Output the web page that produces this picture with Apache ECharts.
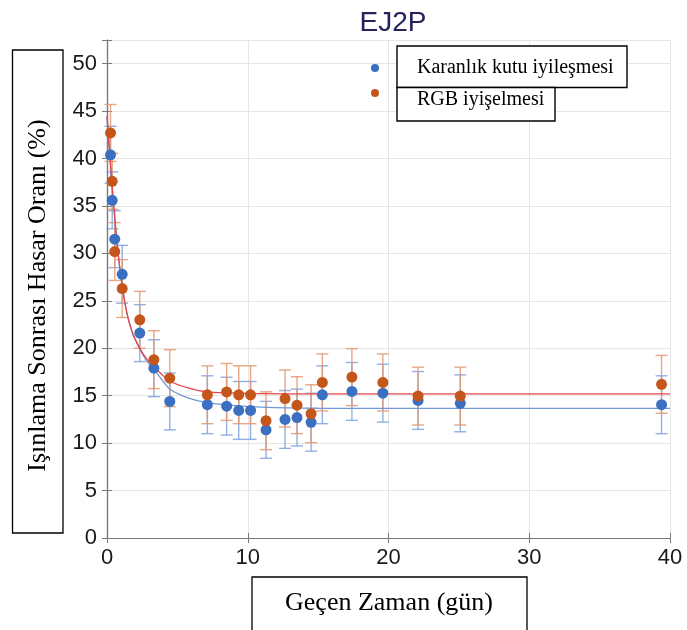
<!DOCTYPE html>
<html>
<head>
	<meta charset="utf-8" />
	<title>EJ2P</title>
	<script src="https://cdn.jsdelivr.net/npm/echarts@6/dist/echarts.min.js"></script>
	<style>
		html, body { margin: 0; padding: 0; background: #fff; }
		#chartmain { width: 687px; height: 630px; }
	</style>
</head>
<body>
	<div id="chartmain"></div>
</body>
<script type="text/javascript">
	// gün
	var days = [0.25, 0.37, 0.55, 1.08, 2.33, 3.33, 4.46, 7.13, 8.5, 9.36, 10.2, 11.3, 12.65, 13.5, 14.5, 15.3, 17.4, 19.6, 22.1, 25.1, 39.4];
	// Karanlık kutu
	var darkVal = [40.4, 35.6, 31.5, 27.8, 21.6, 17.9, 14.4, 14.05, 13.9, 13.45, 13.45, 11.4, 12.5, 12.7, 12.2, 15.1, 15.45, 15.27, 14.5, 14.2, 14.05];
	var darkErr = [3.0, 3.0, 3.0, 3.05, 3.0, 3.0, 3.0, 3.05, 3.05, 3.05, 3.05, 3.0, 3.05, 3.0, 3.05, 3.05, 3.05, 3.05, 3.05, 3.0, 3.05];
	// RGB
	var rgbVal = [42.7, 37.6, 30.2, 26.3, 23.0, 18.8, 16.85, 15.1, 15.4, 15.1, 15.1, 12.36, 14.7, 14.0, 13.1, 16.4, 16.96, 16.4, 14.96, 14.96, 16.2];
	var rgbErr = [3.0, 2.95, 3.05, 3.05, 3.0, 3.05, 3.0, 3.05, 3.0, 3.05, 3.05, 3.05, 3.0, 3.0, 3.05, 3.0, 3.0, 3.0, 3.05, 3.05, 3.05];

	// fit curves
	var fitRgbX = [0, 0.15, 0.3, 0.5, 0.75, 1.0, 1.4, 1.8, 2.3, 2.8, 3.3, 4.0, 4.5, 5.7, 7.1, 8.7, 11, 15, 40];
	var fitRgbY = [44.5, 41.4, 38.4, 34.6, 30.6, 27.4, 23.8, 21.7, 20.1, 18.9, 18.1, 17.1, 16.5, 15.85, 15.4, 15.3, 15.22, 15.2, 15.2];
	var fitDarkX = [0, 0.15, 0.3, 0.5, 0.75, 1.0, 1.4, 1.8, 2.3, 2.8, 3.3, 4.0, 4.5, 5.7, 7.1, 8.7, 11, 15, 20, 40];
	var fitDarkY = [44.5, 41.4, 38.4, 34.6, 30.6, 27.4, 23.8, 21.6, 20.0, 18.7, 17.85, 16.5, 15.65, 14.8, 14.26, 14.0, 13.8, 13.68, 13.66, 13.66];

	var xTicks = [0, 10, 20, 30, 40];
	var yTicks = [0, 5, 10, 15, 20, 25, 30, 35, 40, 45, 50];

	var nameDark = 'Karanlık kutu iyileşmesi';
	var nameRgb = 'RGB iyişelmesi';

	var cBlue = '#3b6fc2', cOrange = '#c4561c';

	function pairs(xs, ys) {
		return xs.map(function (x, i) { return [x, ys[i]]; });
	}
	function errData(xs, ys, es) {
		return xs.map(function (x, i) { return [x, ys[i] - es[i], ys[i] + es[i]]; });
	}
	function errRender(color) {
		return function (params, api) {
			var x = api.value(0);
			var top = api.coord([x, api.value(2)]);
			var bot = api.coord([x, api.value(1)]);
			var w = 6;
			var st = { stroke: color, lineWidth: 1.4, opacity: 0.85 };
			return {
				type: 'group',
				children: [
					{ type: 'line', shape: { x1: top[0], y1: top[1], x2: bot[0], y2: bot[1] }, style: st },
					{ type: 'line', shape: { x1: top[0] - w, y1: top[1], x2: top[0] + w, y2: top[1] }, style: st },
					{ type: 'line', shape: { x1: bot[0] - w, y1: bot[1], x2: bot[0] + w, y2: bot[1] }, style: st }
				]
			};
		};
	}
	// legend only gives the dots, texts sit in the boxes below
	function dotLegend(name, top) {
		return {
			data: [name], left: 371, top: top, padding: 0, z: 8,
			selectedMode: false, itemWidth: 8, itemHeight: 8, icon: 'circle',
			formatter: function () { return ''; },
			textStyle: { fontSize: 6, lineHeight: 6 }
		};
	}

	var myChart = echarts.init(document.getElementById('chartmain'));

	var axisCol = '#7a7a7a';
	var labelFont = { fontFamily: 'Liberation Sans', fontSize: 22, color: '#1a1a1a' };
	var serif = '20px "Liberation Serif"';

	var option = {
		backgroundColor: '#fff',
		animation: false,
		title: {
			text: 'EJ2P',
			left: 388,
			textAlign: 'center',
			top: 4,
			textStyle: { fontFamily: 'Liberation Sans', fontSize: 28, fontWeight: 'normal', color: '#25215a' }
		},
		grid: { left: 107, right: 17, top: 40, bottom: 92 },
		legend: [dotLegend(nameDark, 64), dotLegend(nameRgb, 89)],
		xAxis: [{
			type: 'value', min: xTicks[0], max: xTicks[xTicks.length - 1], interval: 10,
			axisLine: { lineStyle: { color: axisCol, width: 1.2 } },
			axisTick: { inside: true, length: 5, lineStyle: { color: axisCol } },
			axisLabel: Object.assign({ margin: 9 }, labelFont),
			splitLine: { lineStyle: { color: '#e6e6e6', width: 1 } }
		}, {
			type: 'value', position: 'top', min: 0, max: 40, interval: 10,
			axisLine: { lineStyle: { color: axisCol, width: 1.2 } },
			axisTick: { inside: true, length: 5, lineStyle: { color: axisCol } },
			axisLabel: { show: false }, splitLine: { show: false }
		}],
		yAxis: [{
			type: 'value', min: yTicks[0], max: 52.5, interval: 5,
			axisLine: { show: true, lineStyle: { color: axisCol, width: 1.2 } },
			axisTick: { show: true, inside: true, length: 5, lineStyle: { color: axisCol } },
			axisLabel: Object.assign({
				margin: 10,
				formatter: function (v) { return yTicks.indexOf(v) >= 0 ? String(v) : ''; }
			}, labelFont),
			splitLine: { lineStyle: { color: '#e6e6e6', width: 1 } }
		}, {
			type: 'value', position: 'right', min: 0, max: 52.5, interval: 5,
			axisLine: { show: true, lineStyle: { color: axisCol, width: 1.2 } },
			axisTick: { show: true, inside: true, length: 5, lineStyle: { color: axisCol } },
			axisLabel: { show: false }, splitLine: { show: false }
		}],
		graphic: [
			// y axis name box
			{ type: 'rect', z: 3, shape: { x: 12.5, y: 50, width: 50.5, height: 483 },
				style: { fill: '#fff', stroke: '#000', lineWidth: 1.3 } },
			{ type: 'text', z: 4, x: 38, y: 295.5, rotation: Math.PI / 2,
				style: { text: 'Işınlama Sonrası Hasar Oranı (%)', font: '26px "Liberation Serif"', fill: '#000', textAlign: 'center', textVerticalAlign: 'middle' } },
			// x axis name box
			{ type: 'rect', z: 3, shape: { x: 252, y: 577, width: 275, height: 70 },
				style: { fill: '#fff', stroke: '#000', lineWidth: 1.3 } },
			{ type: 'text', z: 4, x: 389, y: 603.5,
				style: { text: 'Geçen Zaman (gün)', font: '26px "Liberation Serif"', fill: '#000', textAlign: 'center', textVerticalAlign: 'middle' } },
			// legend boxes and texts
			{ type: 'rect', z: 3, shape: { x: 397, y: 46, width: 230, height: 41.5 },
				style: { fill: '#fff', stroke: '#000', lineWidth: 1.4 } },
			{ type: 'rect', z: 3, shape: { x: 397, y: 87.5, width: 158, height: 33.5 },
				style: { fill: '#fff', stroke: '#000', lineWidth: 1.4 } },
			{ type: 'text', z: 4, x: 417, y: 68,
				style: { text: nameDark, font: serif, fill: '#000', textAlign: 'left', textVerticalAlign: 'middle' } },
			{ type: 'text', z: 4, x: 417, y: 100,
				style: { text: nameRgb, font: serif, fill: '#000', textAlign: 'left', textVerticalAlign: 'middle' } }
		],
		series: [
			{
				name: 'errDark', type: 'custom', z: 2,
				renderItem: errRender('#7fa2dc'),
				encode: { x: 0, y: [1, 2] },
				data: errData(days, darkVal, darkErr)
			},
			{
				name: 'errRgb', type: 'custom', z: 2,
				renderItem: errRender('#e39670'),
				encode: { x: 0, y: [1, 2] },
				data: errData(days, rgbVal, rgbErr)
			},
			{
				name: 'fitDark', type: 'line', z: 3, smooth: 0.3, showSymbol: false,
				lineStyle: { color: '#7098d8', width: 1.3 },
				data: pairs(fitDarkX, fitDarkY)
			},
			{
				name: 'fitRgb', type: 'line', z: 3, smooth: 0.3, showSymbol: false,
				lineStyle: { color: '#e8474a', width: 1.3 },
				data: pairs(fitRgbX, fitRgbY)
			},
			{
				name: nameDark, type: 'scatter', z: 4, symbolSize: 11,
				itemStyle: { color: cBlue, opacity: 1 },
				data: pairs(days, darkVal)
			},
			{
				name: nameRgb, type: 'scatter', z: 5, symbolSize: 11,
				itemStyle: { color: cOrange, opacity: 1 },
				data: pairs(days, rgbVal)
			}
		]
	};
	myChart.setOption(option);
</script>
</html>
